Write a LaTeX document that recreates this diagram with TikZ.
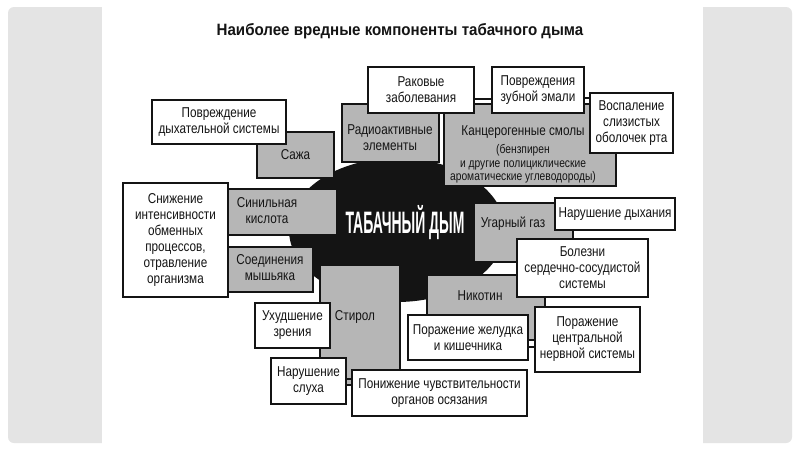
\documentclass[tikz,border=0pt]{standalone}
\usepackage{fontspec}
\usetikzlibrary{shapes.geometric}
\setmainfont[FakeStretch=0.82]{Liberation Sans}
\newfontfamily\titlefont[FakeStretch=0.92]{Liberation Sans}
\newfontfamily\smokefont[FakeStretch=0.45]{Liberation Sans}
\definecolor{panelgray}{RGB}{228,228,228}
\definecolor{boxgray}{RGB}{182,182,182}
\definecolor{ink}{RGB}{20,20,20}
\begin{document}
\begin{tikzpicture}[x=1pt,y=-1pt,
  box/.style={draw=ink,line width=1.4pt,inner sep=0pt,text=ink,align=center,
    font=\fontsize{14.3}{16}\selectfont},
  wbox/.style={box,fill=white},
  gbox/.style={box,fill=boxgray},
  txt/.style={inner sep=0pt,text=ink,align=center,font=\fontsize{14.3}{16}\selectfont},
  link/.style={draw=ink,line width=1.4pt}]
\useasboundingbox (0,0) rectangle (800,450);
% page background
\fill[white] (0,0) rectangle (800,450);
\fill[panelgray,rounded corners=6pt] (8,7) rectangle (792,443);
\fill[white] (102,0) rectangle (703,450);
% title
\node[inner sep=0pt,text=ink,font=\titlefont\bfseries\fontsize{16.4}{18}\selectfont] (title) at (400,31) {Наиболее вредные компоненты табачного дыма};
% central smoke blob
\node[ellipse,fill=ink,minimum width=216pt,minimum height=144pt,inner sep=0pt] (smoke) at (397,230) {};
% gray components
\node[gbox,minimum width=77pt,minimum height=46pt] (soot) at (295.5,155) {Сажа};
\node[gbox,minimum width=97pt,minimum height=58pt] (radio) at (390.5,133) {};
\node[txt] (radiot) at (390,138) {Радиоактивные\\элементы};
\node[gbox,minimum width=172pt,minimum height=82pt] (tar) at (530,145) {};
\node[txt] (tart) at (523,132) {Канцерогенные смолы};
\node[txt,font=\fontsize{12.5}{13.5}\selectfont] (tarsub) at (523,164) {(бензпирен\\и другие полициклические\\ароматические углеводороды)};
\node[gbox,minimum width=109pt,minimum height=46pt] (hcn) at (282.5,212) {};
\node[txt] (hcnt) at (267,211) {Синильная\\кислота};
\node[gbox,minimum width=85pt,minimum height=45pt] (ars) at (270.5,269.5) {};
\node[txt] (arst) at (270,268) {Соединения\\мышьяка};
\node[gbox,minimum width=80pt,minimum height=120pt] (sty) at (360,325) {};
\node[txt] (styt) at (355,317) {Стирол};
\node[gbox,minimum width=99pt,minimum height=59pt] (co) at (523.5,232.5) {};
\node[txt] (cot) at (513,224) {Угарный газ};
\node[gbox,minimum width=118pt,minimum height=65pt] (nic) at (486,307.5) {};
\node[txt] (nict) at (480,296) {Никотин};
% smoke label
\node[inner sep=0pt,text=white,font=\smokefont\bfseries\fontsize{31}{33}\selectfont] (smoket) at (405,223) {ТАБАЧНЫЙ ДЫМ};
% effects (white boxes)
\node[wbox,minimum width=134pt,minimum height=44pt] (resp) at (219,122) {Повреждение\\дыхательной системы};
\node[wbox,minimum width=106pt,minimum height=46pt] (cancer) at (421,90) {Раковые\\заболевания};
\node[wbox,minimum width=92pt,minimum height=46pt] (teeth) at (538,90) {Повреждения\\зубной эмали};
\node[wbox,minimum width=83pt,minimum height=60pt] (mouth) at (631.5,123) {Воспаление\\слизистых\\оболочек рта};
\node[wbox,minimum width=105pt,minimum height=114pt] (metab) at (175.5,240) {Снижение\\интенсивности\\обменных\\процессов,\\отравление\\организма};
\node[wbox,minimum width=120pt,minimum height=32pt] (breath) at (615,214) {Нарушение дыхания};
\node[wbox,minimum width=131pt,minimum height=58pt] (heart) at (582.5,268) {Болезни\\сердечно-сосудистой\\системы};
\node[wbox,minimum width=75pt,minimum height=45pt] (vision) at (292.5,325.5) {Ухудшение\\зрения};
\node[wbox,minimum width=75pt,minimum height=46pt] (hearing) at (308.5,381) {Нарушение\\слуха};
\node[wbox,minimum width=175pt,minimum height=46pt] (touch) at (439.5,393) {Понижение чувствительности\\органов осязания};
\node[wbox,minimum width=120pt,minimum height=45pt] (stomach) at (468,337.5) {Поражение желудка\\и кишечника};
\node[wbox,minimum width=105pt,minimum height=65pt] (cns) at (587.5,339.5) {Поражение\\центральной\\нервной системы};
% short connectors
\draw[link] ([yshift=-9pt]cancer.east) -- ([yshift=-9pt]teeth.west);
\draw[link] ([yshift=-8pt]teeth.east) -- ([yshift=-8pt]teeth.east -| mouth.west);
\draw[link] ([yshift=2pt]hearing.east) -- ([yshift=2pt]hearing.east -| touch.west);
\draw[link] ([yshift=-9.5pt]stomach.east) -- ([yshift=-9.5pt]stomach.east -| cns.west);
\end{tikzpicture}
\end{document}
